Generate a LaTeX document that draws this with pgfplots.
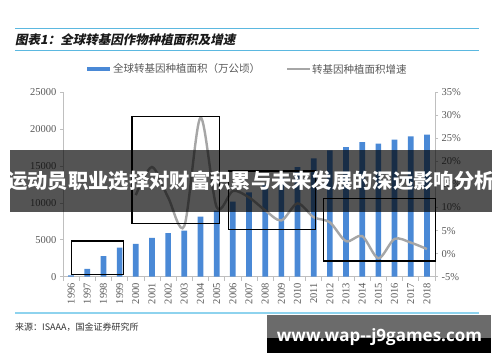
\documentclass[border=0pt]{standalone}
\usepackage{fontspec}
\usepackage{pgfplots}
\pgfplotsset{compat=1.18}
\setmainfont{Liberation Serif}
\newfontfamily\cjk{Noto Sans CJK SC}
\newfontfamily\cjkti{Noto Sans CJK SC}[FakeSlant=0.2]
\newfontfamily\wmfont{Open Sans}
\definecolor{barblue}{HTML}{4A89D6}
\definecolor{linegray}{HTML}{A6A6A6}
\definecolor{axgray}{HTML}{BFBFBF}
\definecolor{labgray}{HTML}{595959}
\definecolor{ruleblue}{HTML}{5BB8E0}
\definecolor{ruleblue2}{HTML}{8ED3EE}
\begin{document}
\begin{tikzpicture}
\useasboundingbox[fill=white] (0pt,0pt) rectangle (500pt,362pt);
\begin{scope}[x=1pt,y=1pt]
% title rules and title
\draw[ruleblue, line width=1pt] (15,333) -- (479,333);
\draw[ruleblue, line width=1pt] (15,311) -- (479,311);
\node[anchor=west, inner sep=0pt, text=black!90] at (15,322) {\cjkti\bfseries\fontsize{12.5}{14}\selectfont 图表1：全球转基因作物种植面积及增速};
% legend
\fill[barblue] (87,290.7) rectangle (110,295.2);
\node[anchor=west, inner sep=0pt, text=labgray] at (113,293) {\cjk\fontsize{10.5}{12}\selectfont 全球转基因种植面积（万公顷）};
\draw[linegray, line width=2.4pt] (287,293) -- (310,293);
\node[anchor=west, inner sep=0pt, text=labgray] at (312,293) {\cjk\fontsize{10.5}{12}\selectfont 转基因种植面积增速};
\end{scope}
% bars axis
\begin{axis}[
  at={(63pt,85.3pt)}, anchor=south west, scale only axis,
  width=372pt, height=184.4pt,
  xmin=1995.5, xmax=2018.5, ymin=0, ymax=25000,
  axis x line*=bottom, axis y line*=left,
  axis line style={draw=axgray, line width=0.7pt, -},
  tick style={draw=axgray, line width=0.7pt},
  tick align=outside, major tick length=3pt, minor tick length=4pt,
  xtick={1996,...,2018},
  minor xtick={1995.5,1996.5,...,2018.5},
  major x tick style={draw=none},
  xticklabel style={rotate=90, anchor=east, font=\fontsize{10.5}{12}\selectfont, text=labgray, /pgf/number format/1000 sep={}},
  ytick={0,5000,10000,15000,20000,25000},
  scaled y ticks=false,
  yticklabel style={font=\fontsize{10.5}{12}\selectfont, text=labgray, /pgf/number format/1000 sep={}},
  /pgf/number format/assume math mode=true,
  ybar, bar width=5.7pt,
]
\addplot[fill=barblue, draw=none] coordinates {
(1996,170) (1997,1050) (1998,2800) (1999,3950) (2000,4440) (2001,5260)
(2002,5900) (2003,6250) (2004,8150) (2005,8970) (2006,10190) (2007,11430)
(2008,12500) (2009,13400) (2010,14860) (2011,16030) (2012,17120) (2013,17580)
(2014,18260) (2015,18030) (2016,18570) (2017,19020) (2018,19250)};
\end{axis}
% line axis
\begin{axis}[
  at={(63pt,85.3pt)}, anchor=south west, scale only axis,
  width=372pt, height=184.4pt,
  xmin=1995.5, xmax=2018.5, ymin=-5, ymax=35,
  axis x line=none, axis y line*=right,
  axis line style={draw=axgray, line width=0.7pt, -},
  tick style={draw=axgray, line width=0.7pt},
  tick align=outside, major tick length=3pt,
  ytick={-5,0,5,10,15,20,25,30,35},
  yticklabel={\pgfmathprintnumber{\tick}\%},
  yticklabel style={font=\fontsize{10.5}{12}\selectfont, text=labgray},
  /pgf/number format/assume math mode=true,
]
\addplot[smooth, tension=0.5, color=linegray, line width=2.4pt] coordinates {
(2000,12.7) (2001,18.8) (2002,12.2) (2003,6.0) (2004,29.5) (2005,10.1)
(2006,13.6) (2007,12.2) (2008,9.4) (2009,7.2) (2010,10.9) (2011,7.9)
(2012,6.8) (2013,2.7) (2014,3.8) (2015,-1.0) (2016,3.2) (2017,2.4) (2018,1.0)};
\end{axis}
\begin{scope}[x=1pt,y=1pt]
% annotation boxes
\draw[black, line width=1.1pt] (71.7,87.7) rectangle (123.3,121);
\draw[black, line width=1.1pt] (132,138.7) rectangle (219.3,245.3);
\draw[black, line width=1.1pt] (228.7,132.7) rectangle (315.7,191);
\draw[black, line width=1.1pt] (323.3,101) rectangle (435.7,163.7);
% banner
\fill[black, opacity=0.67] (10,150.5) rectangle (492,212);
\node[text=white, inner sep=0pt] at (251,181) {\cjk\bfseries\fontsize{20.3}{22}\selectfont 运动员职业选择对财富积累与未来发展的深远影响分析};
% bottom rule and source
\draw[ruleblue2, line width=1.2pt] (15,49) -- (479,49);
\node[anchor=west, inner sep=0pt, text=black!80] at (15,35) {\cjk\fontsize{9}{10}\selectfont 来源：ISAAA，国金证券研究所};
% watermark
\fill[black!58] (266.7,23.7) rectangle (491,47);
\fill[black] (266.7,9.3) rectangle (491,23.7);
\node[anchor=base west, inner sep=0pt, text=white] at (276.7,20.3) {\wmfont\bfseries\fontsize{17}{18}\selectfont www.wap{-}{-}j9games.com};
\end{scope}
\end{tikzpicture}
\end{document}
